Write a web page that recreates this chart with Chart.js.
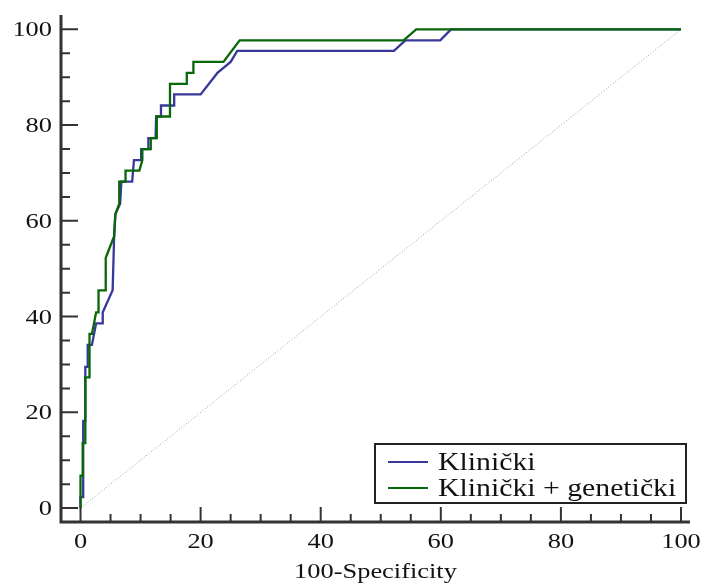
<!DOCTYPE html>
<html>
<head>
<meta charset="utf-8">
<script src="https://cdn.jsdelivr.net/npm/chart.js@4.4.0/dist/chart.umd.min.js"></script>
<style>
  body { margin: 0; background: #fff; }
  canvas { display: block; }
</style>
</head>
<body>
<canvas id="roc" width="705" height="583"></canvas>
<script>
// ROC curve points (x = 100-Specificity, y = Sensitivity)
var klinickiX = [0, 0, 0.45, 0.45, 0.8, 0.8, 1.2, 1.2, 1.9, 2.6, 3.7, 3.7, 5.35, 5.6, 5.8, 6.6, 6.8, 8.6, 8.9, 10.1,
  10.1, 11.3, 11.3, 12.5, 12.6, 13.4, 13.4, 15.6, 15.6, 20.0, 22.8, 25.0, 26.1, 52.2, 54.1, 59.9, 61.7, 100];
var klinickiY = [0, 2.3, 2.3, 18.2, 18.2, 29.5, 29.5, 34.1, 34.1, 38.6, 38.6, 40.9, 45.5, 56.8, 61.4, 63.6, 68.2, 68.2, 72.7, 72.7,
  75.0, 75.0, 77.3, 77.3, 81.8, 81.8, 84.1, 84.1, 86.4, 86.4, 90.9, 93.2, 95.5, 95.5, 97.7, 97.7, 100, 100];

var genetickiX = [0, 0, 0.36, 0.36, 0.8, 0.8, 1.5, 1.5, 1.9, 2.6, 3.0, 3.0, 4.2, 4.2, 5.6, 5.8, 6.45, 6.45, 7.5, 7.5,
  9.8, 10.3, 10.3, 11.7, 11.7, 12.7, 12.7, 14.8, 14.9, 17.7, 17.7, 18.8, 18.8, 23.8, 26.5, 53.8, 55.9, 100];
var genetickiY = [0, 6.8, 6.8, 13.6, 13.6, 27.3, 27.3, 36.4, 36.4, 40.9, 40.9, 45.5, 45.5, 52.3, 56.8, 61.4, 63.6, 68.2, 68.2, 70.5,
  70.5, 72.7, 75.0, 75.0, 77.3, 77.3, 81.8, 81.8, 88.6, 88.6, 90.9, 90.9, 93.2, 93.2, 97.7, 97.7, 100, 100];

var diagonalX = [0, 100];
var diagonalY = [0, 100];

var seriesLabels = ["Klinički", "Klinički + genetički"];
var xTicks = [0, 20, 40, 60, 80, 100];
var yTicks = [0, 20, 40, 60, 80, 100];
var xTitle = "100-Specificity";

var blue = "#38389c";
var green = "#076807";
var axisColor = "#333333";
var serif = "'Liberation Serif', 'Times New Roman', serif";

function toPoints(xs, ys) {
  return xs.map(function (x, i) { return { x: x, y: ys[i] }; });
}

// text in the picture is a bit wider than normal Times, so stretch it
function stretchedText(ctx, text, x, y, align, size) {
  ctx.save();
  ctx.font = size + "px " + serif;
  ctx.fillStyle = "#111";
  ctx.textAlign = align;
  ctx.textBaseline = "alphabetic";
  ctx.translate(x, y);
  ctx.scale(1.2, 1);
  ctx.fillText(text, 0, 0);
  ctx.restore();
}

// axes with inward ticks, labels and the legend box
var framePlugin = {
  id: "frame",
  afterDraw: function (chart) {
    var ctx = chart.ctx;
    var xs = chart.scales.x, ys = chart.scales.y;
    var area = chart.chartArea;
    ctx.save();
    ctx.strokeStyle = axisColor;
    ctx.lineWidth = 3;
    ctx.beginPath();
    ctx.moveTo(area.left, area.top);
    ctx.lineTo(area.left, area.bottom);
    ctx.moveTo(area.left - 1.5, area.bottom);
    ctx.lineTo(area.right, area.bottom);
    ctx.stroke();

    ctx.lineWidth = 2;
    for (var v = 0; v <= 100; v += 5) {
      var major = v % 20 === 0;
      var px = xs.getPixelForValue(v);
      var py = ys.getPixelForValue(v);
      ctx.beginPath();
      ctx.moveTo(px, area.bottom);
      ctx.lineTo(px, area.bottom - (major ? 15 : 8));
      ctx.moveTo(area.left, py);
      ctx.lineTo(area.left + (major ? 17 : 9), py);
      ctx.stroke();
    }
    ctx.restore();

    xTicks.forEach(function (t) {
      stretchedText(ctx, String(t), xs.getPixelForValue(t), area.bottom + 26, "center", 22);
    });
    yTicks.forEach(function (t) {
      stretchedText(ctx, String(t), area.left - 9, ys.getPixelForValue(t) + 7, "right", 22);
    });
    stretchedText(ctx, xTitle, (area.left + area.right) / 2, 578, "center", 22);

    // legend
    var box = { x: 375, y: 444, w: 311, h: 59 };
    ctx.save();
    ctx.fillStyle = "#fff";
    ctx.fillRect(box.x, box.y, box.w, box.h);
    ctx.strokeStyle = "#222";
    ctx.lineWidth = 2;
    ctx.strokeRect(box.x, box.y, box.w, box.h);
    var colors = [blue, green];
    seriesLabels.forEach(function (label, i) {
      var ly = box.y + 18 + i * 26;
      ctx.strokeStyle = colors[i];
      ctx.lineWidth = 2;
      ctx.beginPath();
      ctx.moveTo(box.x + 13, ly);
      ctx.lineTo(box.x + 53, ly);
      ctx.stroke();
      stretchedText(ctx, label, box.x + 63, ly + 8, "left", 24.8);
    });
    ctx.restore();
  }
};

new Chart(document.getElementById("roc"), {
  type: "line",
  data: {
    datasets: [
      {
        label: seriesLabels[0],
        data: toPoints(klinickiX, klinickiY),
        borderColor: blue,
        borderWidth: 2.3,
        order: 1
      },
      {
        label: seriesLabels[1],
        data: toPoints(genetickiX, genetickiY),
        borderColor: green,
        borderWidth: 2.3,
        order: 0
      },
      {
        label: "diagonal",
        data: toPoints(diagonalX, diagonalY),
        borderColor: "#9a9a9a",
        borderWidth: 1,
        borderDash: [1, 2],
        order: 2
      }
    ]
  },
  options: {
    responsive: false,
    animation: false,
    events: [],
    layout: { padding: { left: 61, top: 15, right: 15, bottom: 61 } },
    elements: {
      point: { radius: 0 },
      line: { tension: 0, fill: false }
    },
    plugins: {
      legend: { display: false },
      tooltip: { enabled: false }
    },
    scales: {
      x: { type: "linear", min: -3.25, max: 101.5, display: false },
      y: { type: "linear", min: -2.9, max: 103, display: false }
    }
  },
  plugins: [framePlugin]
});
</script>
</body>
</html>
